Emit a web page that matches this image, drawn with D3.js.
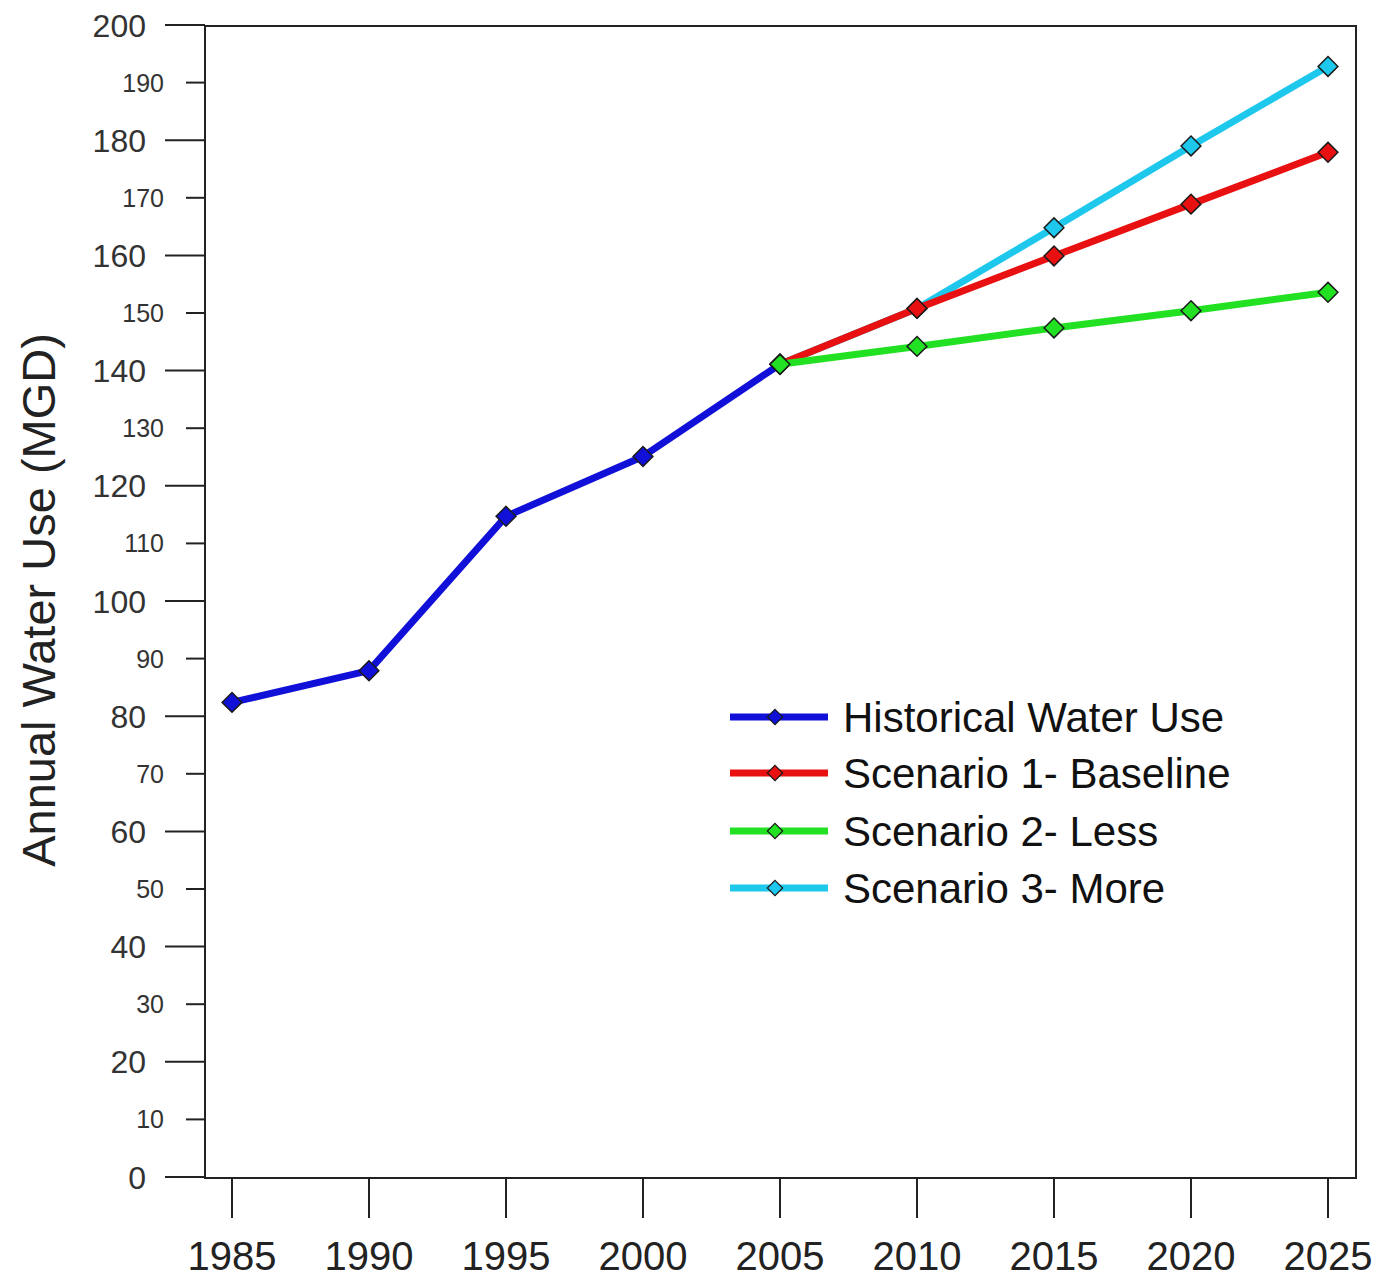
<!DOCTYPE html>
<html>
<head>
<meta charset="utf-8">
<script src="https://cdn.jsdelivr.net/npm/d3@7"></script>
<style>
  body { margin: 0; background: #fff; }
  svg { display: block; font-family: "Liberation Sans", Arial, sans-serif; }
</style>
</head>
<body>
<svg id="chart" width="1379" height="1277"></svg>
<script>
// ---- Data ----
const years = [1985, 1990, 1995, 2000, 2005, 2010, 2015, 2020, 2025];
const historicalYears = [1985, 1990, 1995, 2000, 2005];
const historicalValues = [82.4, 87.9, 114.7, 125.1, 141.1];
const scenarioYears = [2005, 2010, 2015, 2020, 2025];
const scenario1Values = [141.1, 150.8, 159.9, 168.9, 177.9];
const scenario2Values = [141.1, 144.2, 147.4, 150.4, 153.6];
const scenario3Values = [141.1, 150.8, 164.8, 179.0, 192.8];
const yTicks = [0, 10, 20, 30, 40, 50, 60, 70, 80, 90, 100, 110, 120, 130, 140, 150, 160, 170, 180, 190, 200];
const seriesNames = ["Historical Water Use", "Scenario 1- Baseline", "Scenario 2- Less", "Scenario 3- More"];
const seriesColors = ["#1010d8", "#e81010", "#22e022", "#1ec8ec"];
const yTitle = "Annual Water Use (MGD)";

// ---- Layout ----
const svg = d3.select("#chart");
const frame = { left: 205, right: 1356, top: 26, bottom: 1178 };

const x = d3.scaleLinear().domain([1985, 2025]).range([232, 1328]);
const y = d3.scaleLinear().domain([0, 200]).range([1177, 25]);

// Frame
svg.append("rect")
  .attr("x", frame.left).attr("y", frame.top)
  .attr("width", frame.right - frame.left).attr("height", frame.bottom - frame.top)
  .attr("fill", "none").attr("stroke", "#222").attr("stroke-width", 2);

// Y axis ticks & labels (alternating long/short)
const yg = svg.append("g");
yTicks.forEach(v => {
  const major = v % 20 === 0;
  yg.append("line")
    .attr("x1", major ? 165 : 186).attr("x2", frame.left)
    .attr("y1", y(v)).attr("y2", y(v))
    .attr("stroke", "#222").attr("stroke-width", 2);
  yg.append("text")
    .attr("x", major ? 146 : 164)
    .attr("y", y(v))
    .attr("dy", "0.36em")
    .attr("text-anchor", "end")
    .attr("fill", "#333")
    .attr("font-size", major ? 32 : 25)
    .text(v);
});

// X axis ticks & labels
const xg = svg.append("g");
years.forEach(yr => {
  xg.append("line")
    .attr("x1", x(yr)).attr("x2", x(yr))
    .attr("y1", frame.bottom).attr("y2", 1218)
    .attr("stroke", "#222").attr("stroke-width", 2);
  xg.append("text")
    .attr("x", x(yr)).attr("y", 1270)
    .attr("text-anchor", "middle")
    .attr("fill", "#222")
    .attr("font-size", 40)
    .text(yr);
});

// Y title
svg.append("text")
  .attr("transform", "translate(55,600) rotate(-90)")
  .attr("text-anchor", "middle")
  .attr("fill", "#222")
  .attr("font-size", 47)
  .text(yTitle);

// Series
const line = d3.line().x(d => x(d[0])).y(d => y(d[1]));
const diamond = d3.symbol().type(d3.symbolDiamond2);

function drawSeries(xs, vals, color) {
  const pts = xs.map((xx, i) => [xx, vals[i]]);
  const g = svg.append("g");
  g.append("path").datum(pts)
    .attr("d", line)
    .attr("fill", "none")
    .attr("stroke", color)
    .attr("stroke-width", 7)
    .attr("stroke-linejoin", "round");
  g.selectAll("path.m").data(pts).join("path")
    .attr("class", "m")
    .attr("transform", d => `translate(${x(d[0])},${y(d[1])})`)
    .attr("d", diamond.size(250)())
    .attr("fill", color)
    .attr("stroke", "#1a1a1a")
    .attr("stroke-width", 1.5);
}

drawSeries(historicalYears, historicalValues, seriesColors[0]);
drawSeries(scenarioYears, scenario3Values, seriesColors[3]);
drawSeries(scenarioYears, scenario1Values, seriesColors[1]);
drawSeries(scenarioYears, scenario2Values, seriesColors[2]);

// Legend
const legendY = [717, 773, 831, 888];
const lg = svg.append("g");
seriesNames.forEach((name, i) => {
  const yy = legendY[i];
  lg.append("line")
    .attr("x1", 730).attr("x2", 828)
    .attr("y1", yy).attr("y2", yy)
    .attr("stroke", seriesColors[i]).attr("stroke-width", 7);
  lg.append("path")
    .attr("transform", `translate(775,${yy})`)
    .attr("d", diamond.size(150)())
    .attr("fill", seriesColors[i])
    .attr("stroke", "#1a1a1a")
    .attr("stroke-width", 1.2);
  lg.append("text")
    .attr("x", 843).attr("y", yy)
    .attr("dy", "0.36em")
    .attr("fill", "#111")
    .attr("font-size", 42)
    .text(name);
});
</script>
</body>
</html>
